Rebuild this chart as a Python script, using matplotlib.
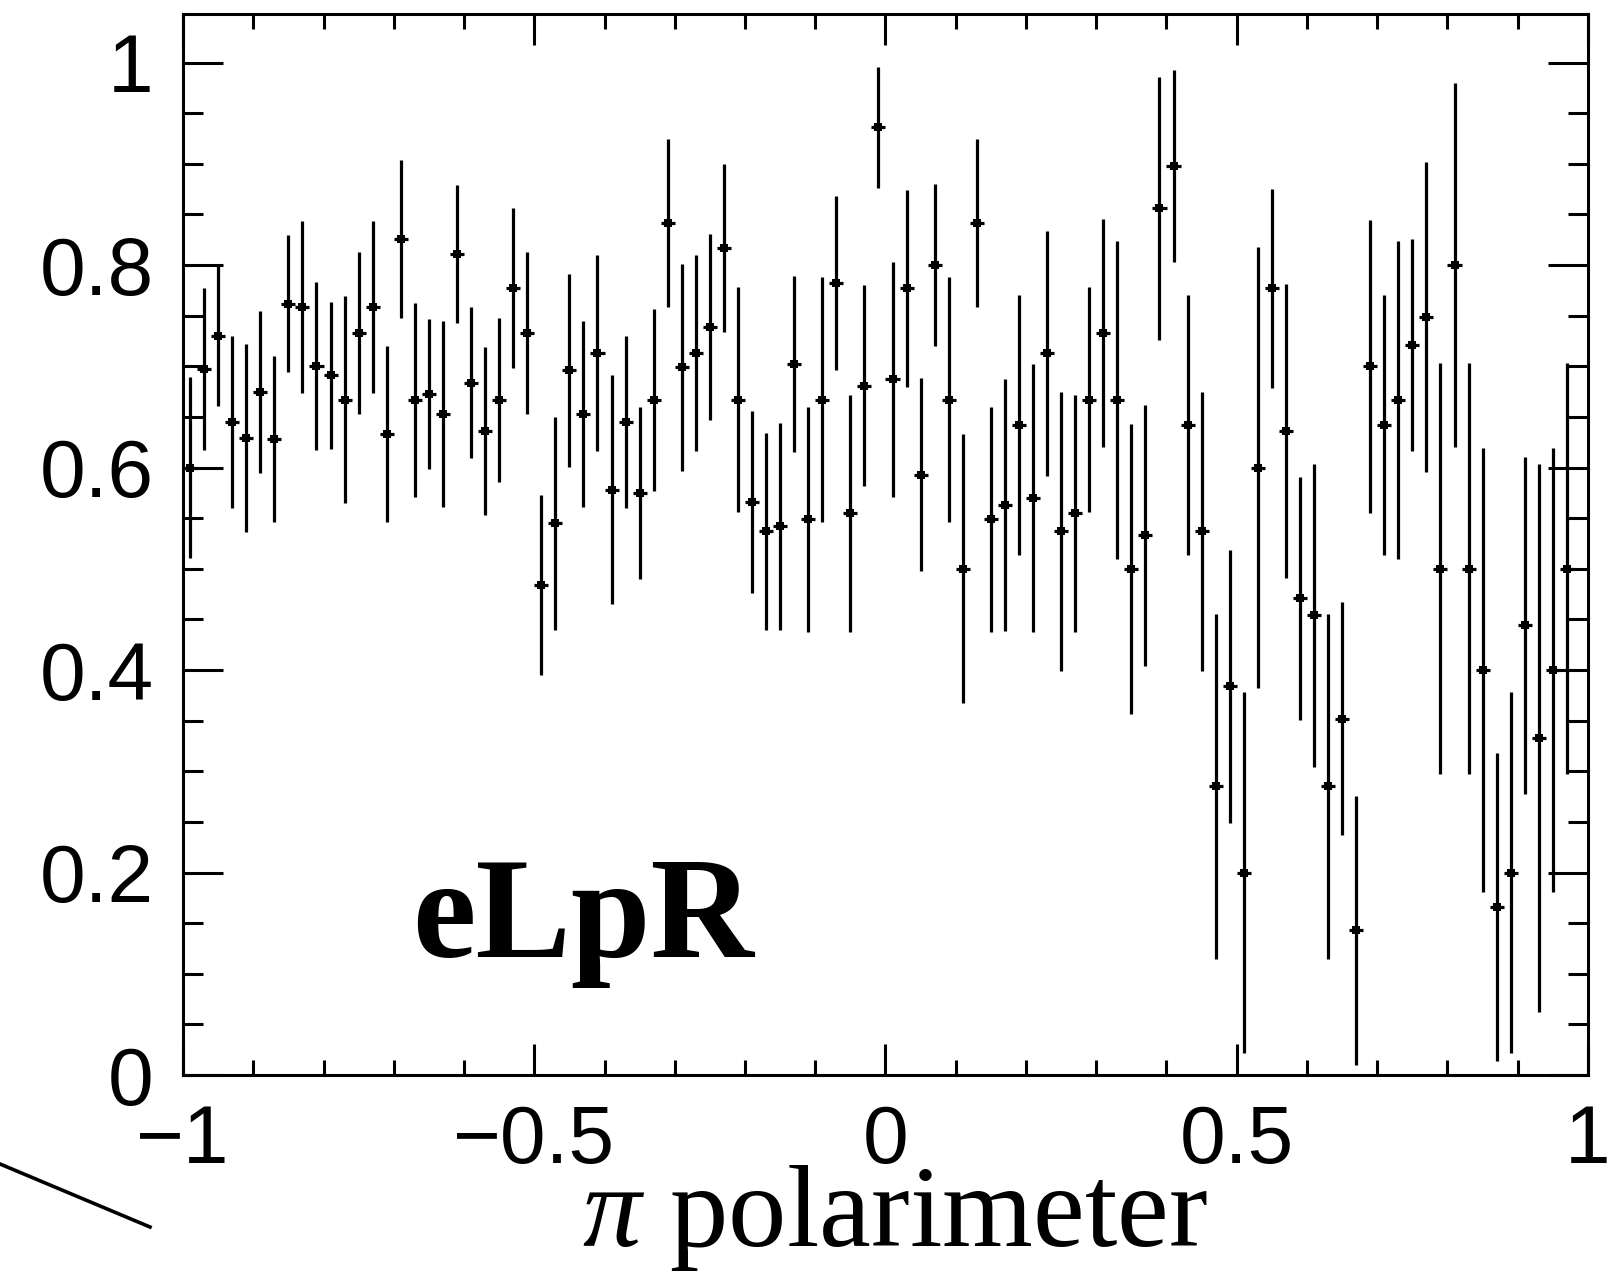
import numpy as np
import matplotlib
matplotlib.use("Agg")
import matplotlib.pyplot as plt
from matplotlib.lines import Line2D
from matplotlib.ticker import MultipleLocator

# histogram binning: 100 bins on [-1, 1], last bin empty
bin_lo = -1.0
bin_width = 0.02

ratio = [0.600, 0.697, 0.730, 0.645, 0.629, 0.675, 0.628, 0.762, 0.759, 0.700,
         0.691, 0.667, 0.733, 0.759, 0.633, 0.826, 0.667, 0.673, 0.653, 0.811,
         0.684, 0.636, 0.667, 0.777, 0.733, 0.484, 0.545, 0.696, 0.653, 0.713,
         0.578, 0.645, 0.575, 0.667, 0.842, 0.699, 0.713, 0.739, 0.817, 0.667,
         0.566, 0.537, 0.542, 0.702, 0.549, 0.667, 0.782, 0.555, 0.681, 0.936,
         0.687, 0.777, 0.593, 0.800, 0.667, 0.500, 0.842, 0.549, 0.563, 0.642,
         0.570, 0.713, 0.537, 0.555, 0.667, 0.733, 0.667, 0.500, 0.533, 0.856,
         0.898, 0.642, 0.537, 0.285, 0.384, 0.200, 0.600, 0.777, 0.636, 0.471,
         0.454, 0.285, 0.352, 0.143, 0.700, 0.642, 0.667, 0.721, 0.749, 0.500,
         0.800, 0.500, 0.400, 0.166, 0.200, 0.444, 0.333, 0.400, 0.500]

ratio_err = [0.089, 0.080, 0.069, 0.085, 0.093, 0.080, 0.082, 0.068, 0.085, 0.083,
             0.073, 0.102, 0.080, 0.085, 0.087, 0.078, 0.096, 0.074, 0.092, 0.068,
             0.075, 0.083, 0.081, 0.079, 0.080, 0.089, 0.105, 0.095, 0.092, 0.097,
             0.113, 0.085, 0.085, 0.090, 0.083, 0.102, 0.097, 0.092, 0.083, 0.111,
             0.090, 0.097, 0.102, 0.087, 0.111, 0.121, 0.086, 0.117, 0.099, 0.060,
             0.116, 0.097, 0.095, 0.080, 0.121, 0.133, 0.083, 0.111, 0.124, 0.128,
             0.132, 0.121, 0.138, 0.117, 0.111, 0.113, 0.157, 0.143, 0.129, 0.130,
             0.095, 0.128, 0.138, 0.170, 0.135, 0.178, 0.218, 0.098, 0.145, 0.120,
             0.150, 0.170, 0.115, 0.133, 0.145, 0.128, 0.157, 0.105, 0.153, 0.203,
             0.180, 0.203, 0.219, 0.152, 0.178, 0.166, 0.271, 0.219, 0.203]

x_ticks = [-1, -0.5, 0, 0.5, 1]
x_labels = ["\u22121", "\u22120.5", "0", "0.5", "1"]
y_ticks = [0, 0.2, 0.4, 0.6, 0.8, 1.0]
y_labels = ["0", "0.2", "0.4", "0.6", "0.8", "1"]

plt.rcParams['mathtext.fontset'] = 'custom'
plt.rcParams['mathtext.rm'] = 'Liberation Serif'
plt.rcParams['mathtext.it'] = 'Liberation Serif:italic'

W, H = 1615, 1273
fig = plt.figure(figsize=(W / 100, H / 100), dpi=100)
ax = fig.add_axes([183 / W, 1 - 1075 / H, (1588 - 183) / W, (1075 - 14) / H])

centers = bin_lo + bin_width * (np.arange(len(ratio)) + 0.5)
ax.errorbar(centers, ratio, yerr=ratio_err, xerr=bin_width / 2, fmt='s',
            color='black', ms=5.5, elinewidth=2.3, capsize=0, mew=0)

ax.set_xlim(-1, 1)
ax.set_ylim(0, 1.048)

ax.set_xticks(x_ticks)
ax.set_xticklabels(x_labels)
ax.set_yticks(y_ticks)
ax.set_yticklabels(y_labels)
ax.xaxis.set_minor_locator(MultipleLocator(0.1))
ax.yaxis.set_minor_locator(MultipleLocator(0.05))

for lab in ax.get_xticklabels() + ax.get_yticklabels():
    lab.set_fontfamily('Liberation Sans')
    lab.set_fontsize(59)

ax.tick_params(which='both', direction='in', top=True, right=True, width=2.2, color='black')
ax.tick_params(axis='y', which='major', length=28.8, pad=21)
ax.tick_params(axis='y', which='minor', length=14.4)
ax.tick_params(axis='x', which='major', length=22, pad=21)
ax.tick_params(axis='x', which='minor', length=10.5)
for sp in ax.spines.values():
    sp.set_linewidth(2.2)

ax.text(-0.674, 0.1166, "eLpR", fontfamily='Liberation Serif', fontweight='bold',
        fontsize=103, ha='left', va='baseline')

fig.text(582 / W, 1 - 1246 / H, r"$\pi$ polarimeter", fontfamily='Liberation Serif',
         fontsize=84, ha='left', va='baseline')

# stray diagonal line from neighbouring panel
fig.add_artist(Line2D([0, 150 / W], [1 - 1164 / H, 1 - 1227 / H],
                      transform=fig.transFigure, color='black', lw=2.6))

fig.savefig("out.png", dpi=100)
